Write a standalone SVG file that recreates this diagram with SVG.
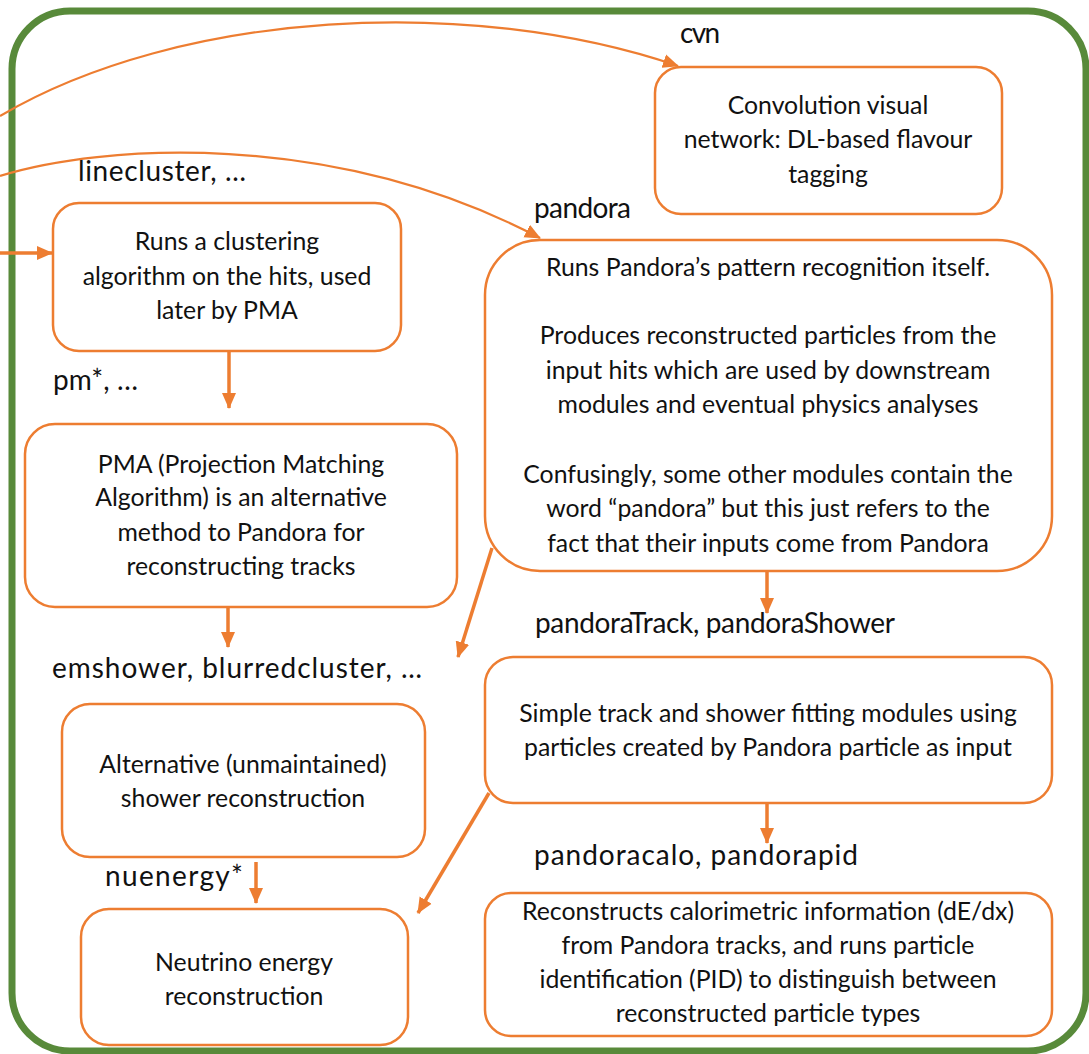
<svg xmlns="http://www.w3.org/2000/svg" width="1089" height="1054" viewBox="0 0 1089 1054">
<style>
.box{fill:#fff;stroke:#ED7D31;stroke-width:2.5}
.t{font-family:Lato,"Liberation Sans",sans-serif;font-size:24.8px;fill:#111;text-anchor:middle}
.lbl{font-family:Lato,"Liberation Sans",sans-serif;font-size:28px;fill:#111}
.c{fill:none;stroke:#ED7D31;stroke-width:2.2}
.s{fill:none;stroke:#ED7D31;stroke-width:3.5}
</style>
<defs>
<marker id="ah" markerUnits="userSpaceOnUse" markerWidth="16" markerHeight="16" viewBox="0 0 16 16" refX="15" refY="8" orient="auto">
<path d="M0,1 L16,8 L0,15 Z" fill="#ED7D31"/>
</marker>
</defs>
<rect id="frame" x="12" y="11" width="1074" height="1040" rx="58" fill="#fff" stroke="#588A3A" stroke-width="7"/>
<g id="connectors">
<path class="c" d="M0,116 C180,10 470,-5 678,66" marker-end="url(#ah)"/>
<path class="c" d="M0,176 C100,145 330,128 540,238" marker-end="url(#ah)"/>
<path class="s" d="M0,253 L52,253" marker-end="url(#ah)"/>
<path class="s" d="M229,351 L229,408" marker-end="url(#ah)"/>
<path class="s" d="M228,607 L228,647" marker-end="url(#ah)"/>
<path class="s" d="M767,571 L767,613" marker-end="url(#ah)"/>
<path class="s" d="M767,803 L767,843" marker-end="url(#ah)"/>
<path class="s" d="M256,862 L256,903" marker-end="url(#ah)"/>
<path class="s" d="M492,548 L458,657" marker-end="url(#ah)"/>
<path class="s" d="M489,793 L418,913" marker-end="url(#ah)"/>
</g>
<g id="labels">
<text class="lbl" x="680" y="43" textLength="40" lengthAdjust="spacing">cvn</text>
<text class="lbl" x="78" y="181" textLength="168" lengthAdjust="spacing">linecluster, …</text>
<text class="lbl" x="534" y="218" textLength="97" lengthAdjust="spacing">pandora</text>
<text class="lbl" x="53" y="390" textLength="85" lengthAdjust="spacing">pm*, …</text>
<text class="lbl" x="535" y="633" textLength="360" lengthAdjust="spacing">pandoraTrack, pandoraShower</text>
<text class="lbl" x="52" y="678" textLength="370" lengthAdjust="spacing">emshower, blurredcluster, …</text>
<text class="lbl" x="534" y="865" textLength="324" lengthAdjust="spacing">pandoracalo, pandorapid</text>
<text class="lbl" x="105" y="886" textLength="138" lengthAdjust="spacing">nuenergy*</text>
</g>
<g id="cvn">
<rect class="box" x="655" y="67" width="347" height="147" rx="26"/>
<text class="t" x="828" y="114">Convolution visual</text>
<text class="t" x="828" y="148">network: DL-based flavour</text>
<text class="t" x="828" y="183">tagging</text>
</g>
<g id="linecluster">
<rect class="box" x="53" y="203" width="348" height="148" rx="26"/>
<text class="t" x="227" y="250">Runs a clustering</text>
<text class="t" x="227" y="285">algorithm on the hits, used</text>
<text class="t" x="227" y="319">later by PMA</text>
</g>
<g id="pandora">
<rect class="box" x="485" y="240" width="567" height="331" rx="55"/>
<text class="t" x="768" y="276">Runs Pandora’s pattern recognition itself.</text>
<text class="t" x="768" y="344">Produces reconstructed particles from the</text>
<text class="t" x="768" y="379">input hits which are used by downstream</text>
<text class="t" x="768" y="413">modules and eventual physics analyses</text>
<text class="t" x="768" y="483">Confusingly, some other modules contain the</text>
<text class="t" x="768" y="517">word “pandora” but this just refers to the</text>
<text class="t" x="768" y="552">fact that their inputs come from Pandora</text>
</g>
<g id="pma">
<rect class="box" x="25" y="424" width="432" height="183" rx="30"/>
<text class="t" x="241" y="473">PMA (Projection Matching</text>
<text class="t" x="241" y="506">Algorithm) is an alternative</text>
<text class="t" x="241" y="541">method to Pandora for</text>
<text class="t" x="241" y="575">reconstructing tracks</text>
</g>
<g id="simple">
<rect class="box" x="485" y="657" width="567" height="146" rx="28"/>
<text class="t" x="768" y="722">Simple track and shower fitting modules using</text>
<text class="t" x="768" y="756">particles created by Pandora particle as input</text>
</g>
<g id="alternative">
<rect class="box" x="62" y="704" width="363" height="153" rx="28"/>
<text class="t" x="243" y="773">Alternative (unmaintained)</text>
<text class="t" x="243" y="807">shower reconstruction</text>
</g>
<g id="neutrino">
<rect class="box" x="81" y="909" width="327" height="136" rx="28"/>
<text class="t" x="244" y="971">Neutrino energy</text>
<text class="t" x="244" y="1005">reconstruction</text>
</g>
<g id="calo">
<rect class="box" x="485" y="893" width="567" height="143" rx="26"/>
<text class="t" x="768" y="920">Reconstructs calorimetric information (dE/dx)</text>
<text class="t" x="768" y="954">from Pandora tracks, and runs particle</text>
<text class="t" x="768" y="988">identification (PID) to distinguish between</text>
<text class="t" x="768" y="1022">reconstructed particle types</text>
</g>
</svg>
